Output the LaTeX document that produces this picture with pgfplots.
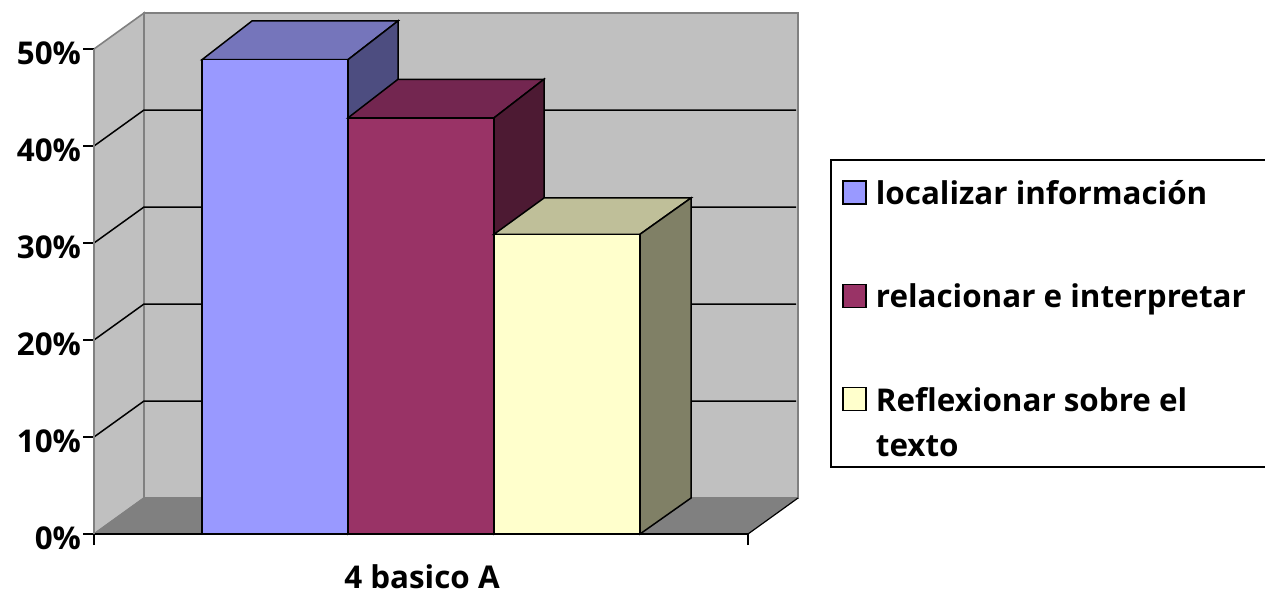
\documentclass[border=0pt]{standalone}
\usepackage{fontspec}
\setmainfont{Open Sans}
\usepackage{pgfplots}
\pgfplotsset{compat=1.18}
\definecolor{wall}{HTML}{C0C0C0}
\definecolor{edge}{HTML}{808080}
\definecolor{blueF}{HTML}{9999FF}
\definecolor{blueT}{HTML}{7575BB}
\definecolor{blueS}{HTML}{4D4D80}
\definecolor{marF}{HTML}{993366}
\definecolor{marT}{HTML}{732650}
\definecolor{marS}{HTML}{4D1A33}
\definecolor{yelF}{HTML}{FFFFCC}
\definecolor{yelT}{HTML}{BFBF99}
\definecolor{yelS}{HTML}{808066}
\newcommand{\chartfont}{\fontsize{31.5}{31.5}\selectfont\bfseries}
\begin{document}
\begin{tikzpicture}[x=1bp,y=1bp]
\path[use as bounding box] (-94bp,-58bp) rectangle (1171bp,534bp);
\begin{axis}[
  scale only axis, width=654bp, height=485bp,
  xmin=94, xmax=748, ymin=0, ymax=50,
  clip=false, axis on top,
  axis x line*=bottom, axis y line*=left,
  x axis line style={black,line width=1.6bp,-},
  y axis line style={edge,line width=1.6bp,-},
  tick style={black,line width=1.5bp},
  tick align=outside, major tick length=11bp,
  xtick={94,748}, xticklabels={},
  ytick={0,10,20,30,40,50},
  yticklabel={\pgfmathprintnumber{\tick}\%},
  /pgf/number format/assume math mode=true,
  tick label style={font=\chartfont,text=black},
  yticklabel style={yshift=-4bp,xshift=1.5bp},
  xlabel={4 basico A},
  xlabel style={font=\chartfont,at={(axis description cs:0.5015,-0.113)},anchor=base},
  legend style={at={(axis cs:831,38.56)},anchor=north west,draw=none,fill=none,
    font=\chartfont,inner xsep=11bp,inner ysep=18bp,row sep=74bp},
  legend cell align=left,
  legend image code/.code={\draw[#1,line width=1.4bp] (0bp,-11bp) rectangle (23bp,12bp); \path[draw=none,fill=none] (0bp,0bp) -- (31bp,0bp);},
]
% back wall, side wall, floor
\addplot[forget plot,fill=wall,draw=edge,line width=1.6bp] coordinates {(144,3.71)(798,3.71)(798,53.71)(144,53.71)} --cycle;
\addplot[forget plot,fill=wall,draw=edge,line width=1.6bp] coordinates {(94,0)(144,3.71)(144,53.71)(94,50)} --cycle;
\addplot[forget plot,fill=edge,draw=none] coordinates {(94,0)(144,3.71)(798,3.71)(748,0)} --cycle;
\addplot[forget plot,draw=edge,line width=1.2bp] coordinates {(94,0)(144,3.71)};
\addplot[forget plot,draw=black,line width=1.2bp] coordinates {(748,0)(798,3.71)};
% gridlines
\addplot[forget plot,black,line width=1.5bp] coordinates {(94,10)(144,13.71)(796,13.71)};
\addplot[forget plot,black,line width=1.5bp] coordinates {(94,20)(144,23.71)(796,23.71)};
\addplot[forget plot,black,line width=1.5bp] coordinates {(94,30)(144,33.71)(796,33.71)};
\addplot[forget plot,black,line width=1.5bp] coordinates {(94,40)(144,43.71)(796,43.71)};
% legend frame (runs past the right edge of the picture)
\addplot[forget plot,fill=white,draw=black,line width=1.5bp] coordinates {(831,38.56)(1275,38.56)(1275,6.91)(831,6.91)} --cycle;
% bar 1
\addplot[forget plot,fill=blueT,draw=black,line width=1.5bp] coordinates {(202,48.9)(252,52.89)(398,52.89)(348,48.9)} --cycle;
\addplot[forget plot,fill=blueS,draw=black,line width=1.5bp] coordinates {(348,48.9)(398,52.89)(398,3.71)(348,0)} --cycle;
\addplot[fill=blueF,draw=black,line width=1.5bp] coordinates {(202,0)(202,48.9)(348,48.9)(348,0)} --cycle;
\addlegendentry{localizar información}
% bar 2
\addplot[forget plot,fill=marT,draw=black,line width=1.5bp] coordinates {(348,42.9)(398,46.88)(544,46.88)(494,42.9)} --cycle;
\addplot[forget plot,fill=marS,draw=black,line width=1.5bp] coordinates {(494,42.9)(544,46.88)(544,3.71)(494,0)} --cycle;
\addplot[fill=marF,draw=black,line width=1.5bp] coordinates {(348,0)(348,42.9)(494,42.9)(494,0)} --cycle;
\addlegendentry{relacionar e interpretar}
% bar 3
\addplot[forget plot,fill=yelT,draw=black,line width=1.5bp] coordinates {(494,30.9)(544,34.64)(691,34.64)(640,30.9)} --cycle;
\addplot[forget plot,fill=yelS,draw=black,line width=1.5bp] coordinates {(640,30.9)(691,34.64)(691,3.71)(640,0)} --cycle;
\addplot[fill=yelF,draw=black,line width=1.5bp] coordinates {(494,0)(494,30.9)(640,30.9)(640,0)} --cycle;
\addlegendentry{\parbox[t]{385bp}{\baselineskip=45bp Reflexionar sobre el\\texto}}
\end{axis}
\end{tikzpicture}
\end{document}
